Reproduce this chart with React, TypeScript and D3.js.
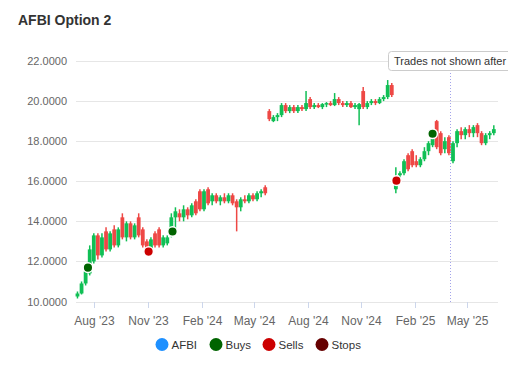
import React from "react";
import * as d3 from "d3";

// Weekly candles, first week starting Monday 2023-07-03
const firstWeek = "2023-07-03";
const lastWeek = "2025-06-16";

const opens = [
  10.25, 10.4, 10.9, 11.4, 12.0, 13.3, 12.3, 13.5, 12.6, 13.6,
  12.8, 14.2, 13.2, 13.9, 13.2, 14.2, 13.6, 13.0, 12.6, 13.4,
  13.6, 12.8, 12.9, 13.3, 14.2, 14.4, 14.2, 14.6, 14.3, 15.0,
  15.5, 14.6, 15.6, 15.0, 15.3, 15.0, 15.2, 15.0, 15.3, 15.0,
  14.7, 15.1, 15.0, 15.3, 15.1, 15.4, 15.7, 19.5, 19.0, 19.2,
  19.3, 19.8, 19.5, 19.7, 19.5, 19.7, 19.6, 20.1, 19.7, 19.8,
  19.7, 19.85, 19.9, 19.8, 20.1, 19.9, 19.8, 19.9, 19.7, 19.6,
  20.5, 19.7, 19.9, 20.0, 19.9, 20.1, 20.2, 20.8, 15.6, 16.3,
  16.4, 17.3, 17.5, 17.0, 16.8, 17.1, 17.5, 17.8, 19.0, 18.4,
  17.6, 18.2, 17.0, 17.9, 18.5, 18.3, 18.6, 18.4, 18.8, 18.4,
  17.9, 18.3, 18.4,
];
const highs = [
  10.5, 11.0, 11.6, 12.8, 13.4, 13.4, 13.4, 13.7, 13.5, 13.8,
  13.7, 14.4, 14.0, 14.0, 13.9, 14.4, 13.7, 13.1, 13.2, 13.5,
  13.7, 13.3, 13.3, 14.4, 14.7, 14.6, 14.8, 14.7, 14.9, 15.1,
  15.6, 15.6, 15.7, 15.4, 15.4, 15.3, 15.4, 15.4, 15.4, 15.1,
  15.2, 15.3, 15.4, 15.4, 15.5, 15.6, 15.8, 19.6, 19.3, 19.4,
  19.9, 19.9, 19.8, 19.8, 19.8, 19.8, 20.5, 20.2, 19.9, 19.9,
  19.9, 19.95, 20.0, 20.4, 20.2, 20.0, 20.0, 20.0, 19.9, 19.9,
  20.7, 20.0, 20.1, 20.1, 20.2, 20.3, 21.05, 20.9, 16.7, 16.5,
  17.1, 17.4, 17.6, 17.3, 17.2, 17.7, 18.0, 18.6, 19.06, 18.5,
  18.2, 18.3, 18.0, 18.6, 18.7, 18.7, 18.8, 18.8, 18.9, 18.5,
  18.4, 18.5, 18.8,
];
const lows = [
  10.15, 10.35, 10.8, 11.3, 11.9, 12.1, 12.2, 12.5, 12.5, 12.7,
  12.7, 13.1, 13.0, 13.1, 13.1, 13.2, 12.7, 12.4, 12.5, 12.7,
  12.7, 12.7, 12.8, 13.2, 13.6, 14.0, 14.0, 14.1, 14.2, 14.3,
  14.5, 14.5, 14.8, 14.8, 14.9, 14.8, 14.9, 14.9, 14.8, 13.5,
  14.5, 14.9, 14.9, 15.0, 15.0, 15.2, 15.3, 19.0, 18.95, 19.0,
  19.2, 19.4, 19.4, 19.4, 19.4, 19.5, 19.5, 19.6, 19.6, 19.65,
  19.6, 19.7, 19.75, 19.75, 19.8, 19.7, 19.7, 19.65, 19.6, 18.8,
  19.6, 19.6, 19.8, 19.8, 19.85, 20.0, 20.1, 20.2, 15.4, 16.1,
  16.3, 16.5, 16.7, 16.7, 16.7, 17.0, 17.3, 17.7, 17.6, 17.3,
  17.4, 17.3, 16.9, 17.7, 18.1, 18.1, 18.2, 18.2, 18.2, 17.8,
  17.8, 18.1, 18.3,
];
const closes = [
  10.4, 10.9, 11.5, 12.6, 13.3, 12.3, 13.2, 12.6, 13.4, 12.8,
  13.6, 13.2, 13.9, 13.2, 13.8, 13.3, 12.8, 12.5, 13.1, 12.8,
  12.8, 13.2, 13.2, 14.2, 14.5, 14.2, 14.6, 14.3, 14.8, 14.4,
  14.6, 15.5, 14.9, 15.3, 15.0, 15.2, 15.0, 15.3, 14.9, 14.7,
  15.1, 15.0, 15.3, 15.1, 15.4, 15.5, 15.4, 19.1, 19.2, 19.3,
  19.8, 19.5, 19.7, 19.5, 19.7, 19.6, 19.9, 19.7, 19.8, 19.7,
  19.85, 19.9, 19.8, 20.1, 19.9, 19.8, 19.9, 19.7, 19.8, 19.85,
  19.7, 19.9, 20.0, 19.9, 20.1, 20.2, 20.8, 20.3, 16.2, 16.4,
  17.0, 16.6, 16.8, 16.8, 17.1, 17.5, 17.9, 18.5, 17.7, 17.4,
  18.0, 17.4, 17.9, 18.5, 18.3, 18.6, 18.4, 18.7, 18.4, 17.9,
  18.3, 18.4, 18.6,
];

const buyDates = ["2023-07-21", "2023-12-13", "2025-03-03"];
const buyPrices = [11.69, 13.49, 18.37];
const sellDates = ["2023-11-02", "2024-12-31"];
const sellPrices = [12.49, 16.03];

const yTicks = [10, 12, 14, 16, 18, 20, 22];
const xTickDates = [
  "2023-08-01", "2023-11-01", "2024-02-01", "2024-05-01",
  "2024-08-01", "2024-11-01", "2025-02-01", "2025-05-01",
];
const xTickLabels = ["Aug '23", "Nov '23", "Feb '24", "May '24", "Aug '24", "Nov '24", "Feb '25", "May '25"];
const cutoffDate = "2025-04-01";
const annotationText = "Trades not shown after";

const legendNames = ["AFBI", "Buys", "Sells", "Stops"];
const legendColors = ["#1e90ff", "#006400", "#cc0000", "#660000"];

const parse = d3.timeParse("%Y-%m-%d");
const FONT = "'Liberation Sans', Arial, Helvetica, sans-serif";
const UP = "#10bf55";
const DOWN = "#ee4845";

export default function App() {
  const weeks = d3.timeMonday.range(parse(firstWeek)!, d3.timeDay.offset(parse(lastWeek)!, 1));
  const x = d3.scaleTime()
    .domain([parse("2023-07-01")!, parse("2025-06-23")!])
    .range([76.3, 497.9]);
  const y = d3.scaleLinear().domain([10, 22]).range([301.5, 61]);
  const plotLeft = 76;
  const plotRight = 498;
  const cutX = Math.round(x(parse(cutoffDate)!)) + 0.5;
  const fmt = d3.format(".4f");
  const candleW = 3.8;

  const legendX = [162, 216, 269, 322];

  return (
    <svg width={508} height={380} style={{ position: "absolute", left: 0, top: 0, fontFamily: FONT }}>
      <text x={18} y={25} fontSize={14} fontWeight="bold" fill="#333">AFBI Option 2</text>

      {yTicks.map((t) => (
        <g key={t}>
          <line x1={plotLeft} x2={plotRight} y1={Math.round(y(t)) + 0.5} y2={Math.round(y(t)) + 0.5} stroke="#e6e6e6" strokeWidth={1} />
          <text x={67} y={y(t) + 4} fontSize={11} fill="#666" textAnchor="end">{fmt(t)}</text>
        </g>
      ))}

      {xTickDates.map((d, i) => {
        const xx = Math.round(x(parse(d)!)) + 0.5;
        return (
          <g key={d}>
            <line x1={xx} x2={xx} y1={302} y2={308} stroke="#ccd6eb" strokeWidth={1} />
            <text x={xx} y={325} fontSize={12} fill="#666" textAnchor="middle">{xTickLabels[i]}</text>
          </g>
        );
      })}

      {weeks.map((w, i) => {
        if (i >= opens.length) return null;
        const cx = x(w);
        const o = opens[i], c = closes[i], h = highs[i], l = lows[i];
        const col = c >= o ? UP : DOWN;
        const top = y(Math.max(o, c));
        const bot = y(Math.min(o, c));
        return (
          <g key={i}>
            <line x1={cx} x2={cx} y1={y(h)} y2={y(l)} stroke={col} strokeWidth={1.5} />
            <rect x={cx - candleW / 2} y={top} width={candleW} height={Math.max(1.5, bot - top)} fill={col} />
          </g>
        );
      })}

      <line x1={cutX} x2={cutX} y1={70} y2={302} stroke="#a3a3ea" strokeWidth={1} strokeDasharray="1,2" />
      <rect x={388.5} y={51.5} width={140} height={19} rx={3} fill="#fff" stroke="#cccccc" strokeWidth={1} />
      <text x={394} y={65} fontSize={11} fill="#333">{annotationText}</text>

      {buyDates.map((d, i) => (
        <circle key={"b" + i} cx={x(parse(d)!)} cy={y(buyPrices[i])} r={4.8} fill="#006400" stroke="#fff" strokeWidth={1.5} />
      ))}
      {sellDates.map((d, i) => (
        <circle key={"s" + i} cx={x(parse(d)!)} cy={y(sellPrices[i])} r={4.8} fill="#cc0000" stroke="#fff" strokeWidth={1.5} />
      ))}

      {legendNames.map((n, i) => (
        <g key={n}>
          <circle cx={legendX[i]} cy={344.5} r={6.5} fill={legendColors[i]} />
          <text x={legendX[i] + 9.5} y={348.5} fontSize={11.5} fill="#333">{n}</text>
        </g>
      ))}
    </svg>
  );
}
